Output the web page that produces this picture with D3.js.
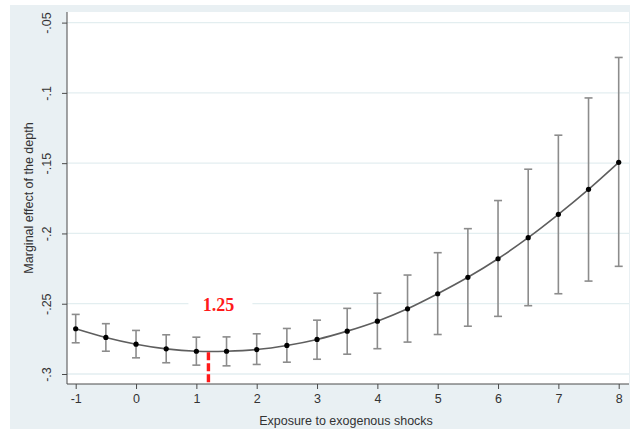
<!DOCTYPE html>
<html>
<head>
<meta charset="utf-8">
<script src="https://cdn.jsdelivr.net/npm/d3@7"></script>
<style>
  html, body { margin: 0; padding: 0; background: #ffffff; }
  svg { display: block; }
</style>
</head>
<body>
<svg id="chart" width="630" height="436"></svg>
<script>
// ---- data ----
const exposure = [-1, -0.5, 0, 0.5, 1, 1.5, 2, 2.5, 3, 3.5, 4, 4.5, 5, 5.5, 6, 6.5, 7, 7.5, 8];
const estimate = [-0.2678, -0.2740, -0.2788, -0.2821, -0.2838, -0.2838, -0.2826, -0.2797, -0.2754, -0.2695,
                  -0.2624, -0.2536, -0.2429, -0.2312, -0.2180, -0.2030, -0.1864, -0.1686, -0.1494];
const lowerCI  = [-0.2778, -0.2838, -0.2885, -0.2920, -0.2937, -0.2942, -0.2932, -0.2916, -0.2895, -0.2859,
                  -0.2820, -0.2773, -0.2719, -0.2660, -0.2590, -0.2514, -0.2429, -0.2339, -0.2234];
const upperCI  = [-0.2576, -0.2642, -0.2690, -0.2721, -0.2738, -0.2736, -0.2714, -0.2676, -0.2617, -0.2533,
                  -0.2425, -0.2296, -0.2137, -0.1966, -0.1766, -0.1543, -0.1301, -0.1036, -0.0748];
const xTicks = [-1, 0, 1, 2, 3, 4, 5, 6, 7, 8];
const xTickLabels = ["-1", "0", "1", "2", "3", "4", "5", "6", "7", "8"];
const yTicks = [-0.3, -0.25, -0.2, -0.15, -0.1, -0.05];
const yTickLabels = ["-.3", "-.25", "-.2", "-.15", "-.1", "-.05"];
const turningPoint = 1.2;
const turningLabel = "1.25";
const xTitle = "Exposure to exogenous shocks";
const yTitle = "Marginal effect of the depth";

const points = exposure.map((x, i) => ({ x, est: estimate[i], lo: lowerCI[i], hi: upperCI[i] }));

// ---- layout ----
const svg = d3.select("#chart");
const plot = { left: 67, right: 629, top: 12, bottom: 384 };

const x = d3.scaleLinear().domain([-1, 8]).range([75.7, 618.7]);
const y = d3.scaleLinear().domain([-0.3, -0.05]).range([374, 22.6]);

// outer graph region
svg.append("rect").attr("x", 10).attr("y", 5).attr("width", 620).attr("height", 424).attr("fill", "#e9f0f3");
// plot region
svg.append("rect").attr("x", plot.left).attr("y", plot.top)
   .attr("width", plot.right - plot.left).attr("height", plot.bottom - plot.top)
   .attr("fill", "#ffffff");

// gridlines
svg.append("g").selectAll("line").data(yTicks).join("line")
   .attr("x1", plot.left).attr("x2", plot.right)
   .attr("y1", d => y(d)).attr("y2", d => y(d))
   .attr("stroke", "#e3eef0").attr("stroke-width", 1.3);

// axes
const fontFam = "'Liberation Sans', Arial, sans-serif";
const yAxis = svg.append("g").attr("transform", `translate(${plot.left},0)`)
   .call(d3.axisLeft(y).tickValues(yTicks).tickSize(5).tickPadding(6)
        .tickFormat((d, i) => yTickLabels[i]));
yAxis.select(".domain").attr("d", `M0,${plot.top}V${plot.bottom}`).attr("stroke", "#4a4a4a");
yAxis.selectAll(".tick line").attr("stroke", "#4a4a4a");
yAxis.selectAll(".tick text")
   .attr("font-family", fontFam).attr("font-size", 12.5).attr("fill", "#333")
   .attr("text-anchor", "middle").attr("x", 0).attr("dy", 0)
   .attr("transform", "translate(-19,0) rotate(-90)")
   .attr("dominant-baseline", "middle");

const xAxis = svg.append("g").attr("transform", `translate(0,${plot.bottom})`)
   .call(d3.axisBottom(x).tickValues(xTicks).tickSize(5).tickPadding(5)
        .tickFormat((d, i) => xTickLabels[i]));
xAxis.select(".domain").attr("d", `M${plot.left},0H${plot.right}`).attr("stroke", "#4a4a4a");
xAxis.selectAll(".tick line").attr("stroke", "#4a4a4a");
xAxis.selectAll(".tick text")
   .attr("font-family", fontFam).attr("font-size", 12.5).attr("fill", "#333");

// axis titles
svg.append("text").attr("x", 346).attr("y", 425).attr("text-anchor", "middle")
   .attr("font-family", fontFam).attr("font-size", 12.5).attr("fill", "#333").text(xTitle);
svg.append("text").attr("transform", "translate(33,198) rotate(-90)").attr("text-anchor", "middle")
   .attr("font-family", fontFam).attr("font-size", 12.5).attr("fill", "#333").text(yTitle);

// error bars
const eb = svg.append("g").attr("stroke", "#8c8c8c").attr("stroke-width", 1.6);
eb.selectAll("line.v").data(points).join("line").attr("class", "v")
  .attr("x1", d => x(d.x)).attr("x2", d => x(d.x))
  .attr("y1", d => y(d.lo)).attr("y2", d => y(d.hi));
eb.selectAll("line.t").data(points).join("line").attr("class", "t")
  .attr("x1", d => x(d.x) - 4).attr("x2", d => x(d.x) + 4)
  .attr("y1", d => y(d.hi)).attr("y2", d => y(d.hi));
eb.selectAll("line.b").data(points).join("line").attr("class", "b")
  .attr("x1", d => x(d.x) - 4).attr("x2", d => x(d.x) + 4)
  .attr("y1", d => y(d.lo)).attr("y2", d => y(d.lo));

// estimate line
svg.append("path").datum(points)
   .attr("d", d3.line().x(d => x(d.x)).y(d => y(d.est)).curve(d3.curveCatmullRom))
   .attr("fill", "none").attr("stroke", "#5e5e5e").attr("stroke-width", 1.6);

// points
svg.append("g").selectAll("circle").data(points).join("circle")
   .attr("cx", d => x(d.x)).attr("cy", d => y(d.est)).attr("r", 2.6).attr("fill", "#000");

// turning point marker
const tpEst = d3.min(estimate);
svg.append("line")
   .attr("x1", x(turningPoint)).attr("x2", x(turningPoint))
   .attr("y1", y(tpEst) + 1).attr("y2", plot.bottom)
   .attr("stroke", "#ff1a1a").attr("stroke-width", 3.4).attr("stroke-dasharray", "8,3");

const lbl = svg.append("g");
lbl.append("rect").attr("x", x(turningPoint) - 20).attr("y", y(-0.25) - 12)
   .attr("width", 64).attr("height", 22).attr("fill", "#ffffff");
lbl.append("text").attr("x", x(turningPoint) + 10).attr("y", y(-0.25) + 7)
   .attr("text-anchor", "middle")
   .attr("font-family", "'Liberation Serif', 'Times New Roman', serif")
   .attr("font-weight", "bold").attr("font-size", 18).attr("fill", "#ff1a1a")
   .text(turningLabel);
</script>
</body>
</html>
